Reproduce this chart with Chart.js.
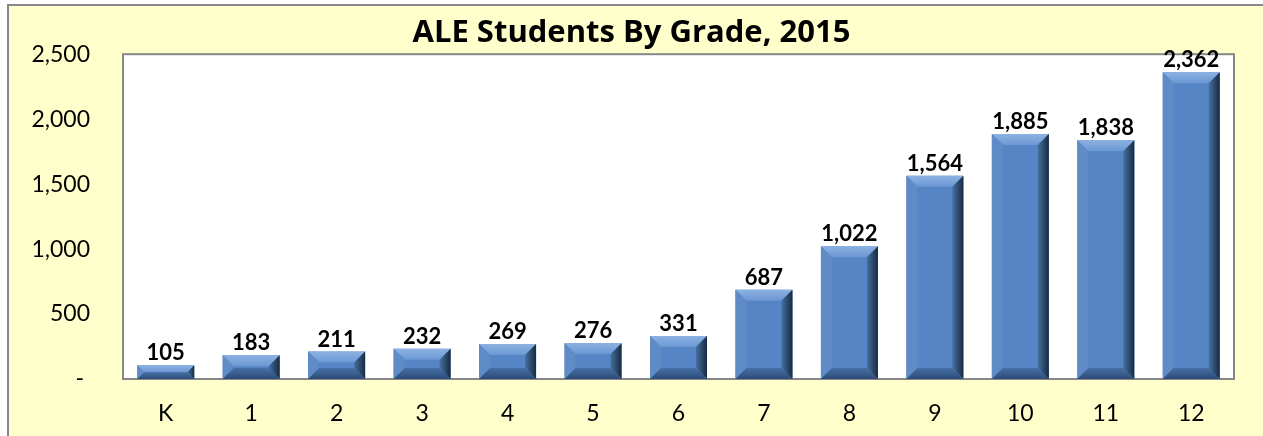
<!DOCTYPE html>
<html>
<head>
<meta charset="utf-8">
<script src="https://cdn.jsdelivr.net/npm/chart.js@4/dist/chart.umd.min.js"></script>
<style>
  body { margin: 0; background: #fff; overflow: hidden; }
  #frame { position: absolute; left: 7px; top: 4px; width: 1280px; height: 460px;
           border: 2px solid #878787; background: #FFFFCC; }
  #myChart { position: absolute; left: 0; top: 0; }
</style>
</head>
<body>
<div id="frame"></div>
<canvas id="myChart" width="1263" height="436"></canvas>
<script>
const grades = ['K', '1', '2', '3', '4', '5', '6', '7', '8', '9', '10', '11', '12'];
const students = [105, 183, 211, 232, 269, 276, 331, 687, 1022, 1564, 1885, 1838, 2362];
const yTicks = [0, 500, 1000, 1500, 2000, 2500];

const FONT = 'Lato, "Open Sans", sans-serif';

// white plot area + grey frame round it
const plotBox = {
    id: 'plotBox',
    beforeDraw(chart) {
        const a = chart.chartArea, c = chart.ctx;
        c.save();
        c.fillStyle = '#ffffff';
        c.fillRect(a.left, a.top, a.right - a.left, a.bottom - a.top);
        c.restore();
    },
    afterDatasetsDraw(chart) {
        const a = chart.chartArea, c = chart.ctx;
        c.save();
        c.strokeStyle = '#878787';
        c.lineWidth = 2;
        c.strokeRect(a.left, a.top, a.right - a.left, a.bottom - a.top);
        c.restore();
    }
};

// Excel style bevel on each bar
function quad(c, pts, fill) {
    c.beginPath();
    c.moveTo(pts[0][0], pts[0][1]);
    for (let i = 1; i < pts.length; i++) c.lineTo(pts[i][0], pts[i][1]);
    c.closePath();
    c.fillStyle = fill;
    c.fill();
}

const bevel = {
    id: 'bevel',
    afterDatasetsDraw(chart) {
        const c = chart.ctx;
        chart.getDatasetMeta(0).data.forEach(bar => {
            const L = bar.x - bar.width / 2, R = bar.x + bar.width / 2;
            const T = bar.y, B = bar.base;
            const d = Math.min(11, (B - T) / 2);
            c.save();
            let g = c.createLinearGradient(0, T, 0, T + d);
            g.addColorStop(0, '#8db2e2');
            g.addColorStop(1, '#6b97d3');
            quad(c, [[L, T], [R, T], [R - d, T + d], [L + d, T + d]], g);
            quad(c, [[L, T], [L + d, T + d], [L + d, B - d], [L, B]], '#5f8bc6');
            g = c.createLinearGradient(R - d, 0, R, 0);
            g.addColorStop(0, '#46709f');
            g.addColorStop(1, '#172a42');
            quad(c, [[R, T], [R, B], [R - d, B - d], [R - d, T + d]], g);
            g = c.createLinearGradient(0, B - d, 0, B);
            g.addColorStop(0, '#4670a6');
            g.addColorStop(1, '#2d4b75');
            quad(c, [[L, B], [L + d, B - d], [R - d, B - d], [R, B]], g);
            c.restore();
        });
    }
};

const valueLabels = {
    id: 'valueLabels',
    afterDatasetsDraw(chart) {
        const c = chart.ctx;
        c.save();
        c.font = 'bold 22px ' + FONT;
        c.fillStyle = '#000';
        c.textAlign = 'center';
        c.textBaseline = 'bottom';
        chart.getDatasetMeta(0).data.forEach((bar, i) => {
            c.fillText(students[i].toLocaleString('en-US'), bar.x, bar.y - 1);
        });
        c.restore();
    }
};

const ctx = document.getElementById('myChart');
const myChart = new Chart(ctx, {
    type: 'bar',
    data: {
        labels: grades,
        datasets: [{
            data: students,
            backgroundColor: '#5585c4',
            borderWidth: 0,
            barPercentage: 0.667,
            categoryPercentage: 1
        }]
    },
    options: {
        responsive: false,
        animation: false,
        layout: { padding: { left: 29, right: 29, top: 0, bottom: 0 } },
        plugins: {
            legend: { display: false },
            tooltip: { enabled: false },
            title: {
                display: true,
                text: 'ALE Students By Grade, 2015',
                color: '#000',
                font: { family: '"Open Sans", Lato, sans-serif', size: 31, weight: 'bold' },
                padding: { top: 15, bottom: 2 }
            }
        },
        scales: {
            x: {
                grid: { display: false, drawTicks: false },
                border: { display: false },
                ticks: { color: '#000', font: { family: FONT, size: 23 }, padding: 21 },
                afterFit(scale) { scale.height = 57; }
            },
            y: {
                min: 0,
                max: 2500,
                grid: { display: false, drawTicks: false },
                border: { display: false },
                afterBuildTicks(scale) { scale.ticks = yTicks.map(v => ({ value: v })); },
                ticks: {
                    color: '#000',
                    font: { family: FONT, size: 23 },
                    padding: 33,
                    callback: function(value) {
                        return value === 0 ? '- ' : value.toLocaleString('en-US');
                    }
                },
                afterFit(scale) { scale.width = 94; }
            }
        }
    },
    plugins: [plotBox, bevel, valueLabels]
});
</script>
</body>
</html>
